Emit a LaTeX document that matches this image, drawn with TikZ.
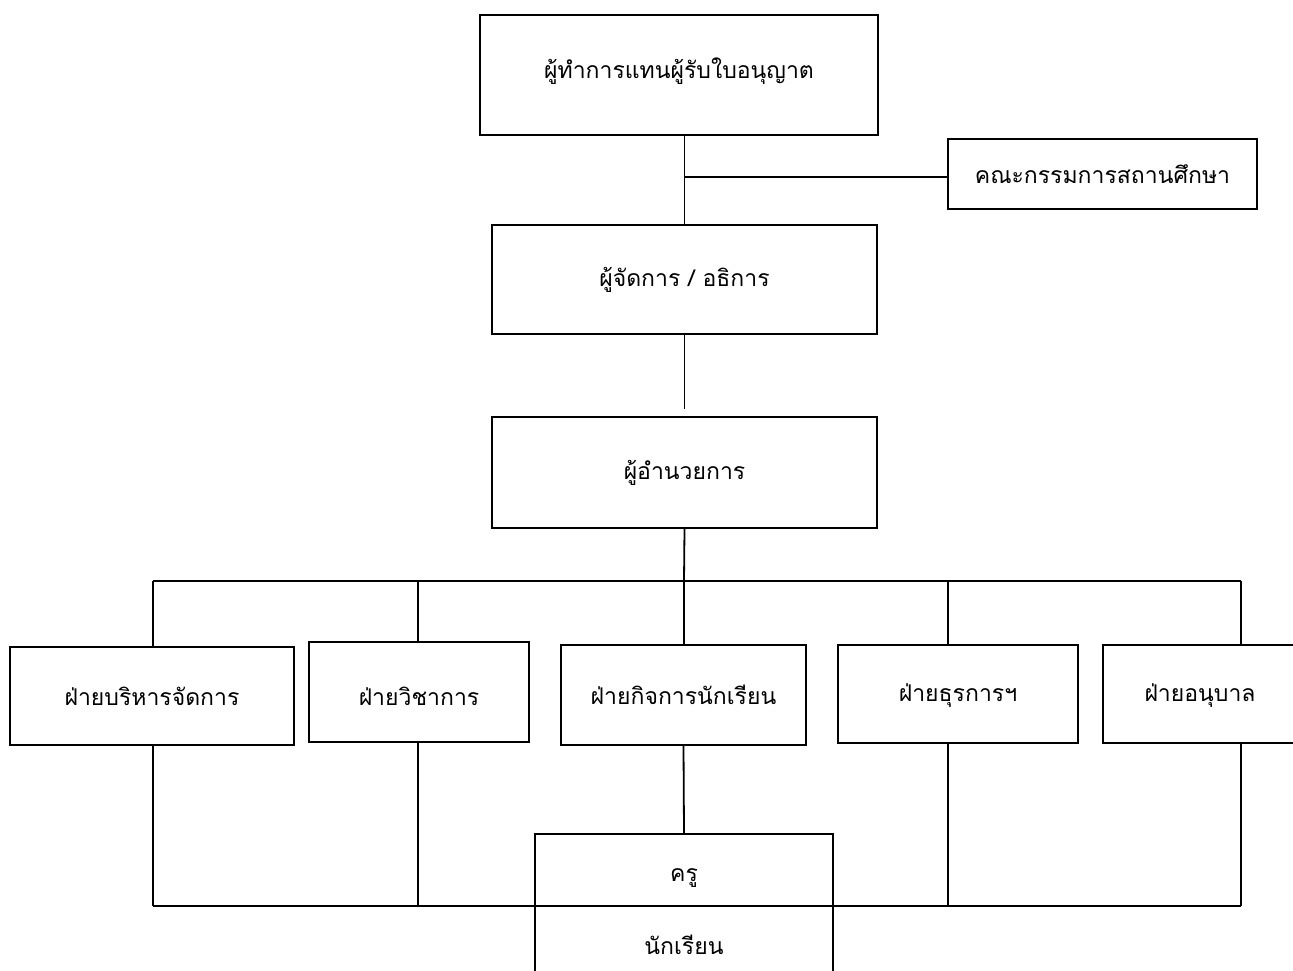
\documentclass[tikz,border=0pt]{standalone}
\usepackage{fontspec}
\newfontfamily\thaifont[Script=Thai]{Loma}
\begin{document}
\begin{tikzpicture}[x=1pt,y=-1pt,
  box/.style={draw,line width=1.8pt,rectangle,inner sep=0pt},
  txt/.style={font=\thaifont\fontsize{23}{26}\selectfont,inner sep=0pt},
  conn/.style={line width=1.8pt}]
\useasboundingbox (0,0) rectangle (1293,971);
\clip (0,0) rectangle (1293,971);
\node[box,minimum width=398pt,minimum height=120pt,label={[txt,yshift=4pt]center:ผู้ทำการแทนผู้รับใบอนุญาต}] (lic) at (679,75) {};
\node[box,minimum width=309pt,minimum height=70pt,label={[txt]center:คณะกรรมการสถานศึกษา}] (com) at (1102.5,174) {};
\node[box,minimum width=385pt,minimum height=109pt,label={[txt]center:ผู้จัดการ / อธิการ}] (mgr) at (684.5,279.5) {};
\node[box,minimum width=385pt,minimum height=111pt,label={[txt]center:ผู้อำนวยการ}] (dir) at (684.5,472.5) {};
\node[box,minimum width=284pt,minimum height=98pt,label={[txt]center:ฝ่ายบริหารจัดการ}] (b1) at (152,696) {};
\node[box,minimum width=220pt,minimum height=100pt,label={[txt,yshift=-4pt]center:ฝ่ายวิชาการ}] (b2) at (419,692) {};
\node[box,minimum width=245pt,minimum height=100pt,label={[txt]center:ฝ่ายกิจการนักเรียน}] (b3) at (683.5,695) {};
\node[box,minimum width=240pt,minimum height=98pt,label={[txt,yshift=-2pt]center:ฝ่ายธุรการฯ}] (b4) at (958,694) {};
\node[box,minimum width=194pt,minimum height=98pt,label={[txt,yshift=-2pt]center:ฝ่ายอนุบาล}] (b5) at (1200,694) {};
\node[box,minimum width=298pt,minimum height=72pt,label={[txt,yshift=-8pt]center:ครู}] (kru) at (684,870) {};
\node[box,minimum width=298pt,minimum height=90pt,label={[txt,yshift=6pt]center:นักเรียน}] (stu) at (684,951) {};
% top connectors
\draw[conn] (lic.south -| mgr.north) -- (mgr.north);
\draw[conn] (684,177) -- (com.west |- 0,177);
\draw[conn,shorten >=7pt] (mgr.south) -- (dir.north);
% bus
\coordinate (d1) at (153,581);
\coordinate (d2) at (418,581);
\coordinate (d3) at (684,581);
\coordinate (d4) at (948,581);
\coordinate (d5) at (1241,581);
\draw[conn] (dir.south) -- (d3);
\draw[conn] (d1) -- (d5);
\draw[conn] (d1) -- (d1 |- b1.north);
\draw[conn] (d2) -- (d2 |- b2.north);
\draw[conn] (d3) -- (d3 |- b3.north);
\draw[conn] (d4) -- (d4 |- b4.north);
\draw[conn] (d5) -- (d5 |- b5.north);
% bottom
\coordinate (bl) at (153,906);
\coordinate (br) at (1241,906);
\draw[conn] (bl) -- (br);
\draw[conn] (d1 |- b1.south) -- (bl);
\draw[conn] (d2 |- b2.south) -- (d2 |- bl);
\draw[conn] (b3.south) -- (kru.north);
\draw[conn] (d4 |- b4.south) -- (d4 |- bl);
\draw[conn] (d5 |- b5.south) -- (br);
\end{tikzpicture}
\end{document}
